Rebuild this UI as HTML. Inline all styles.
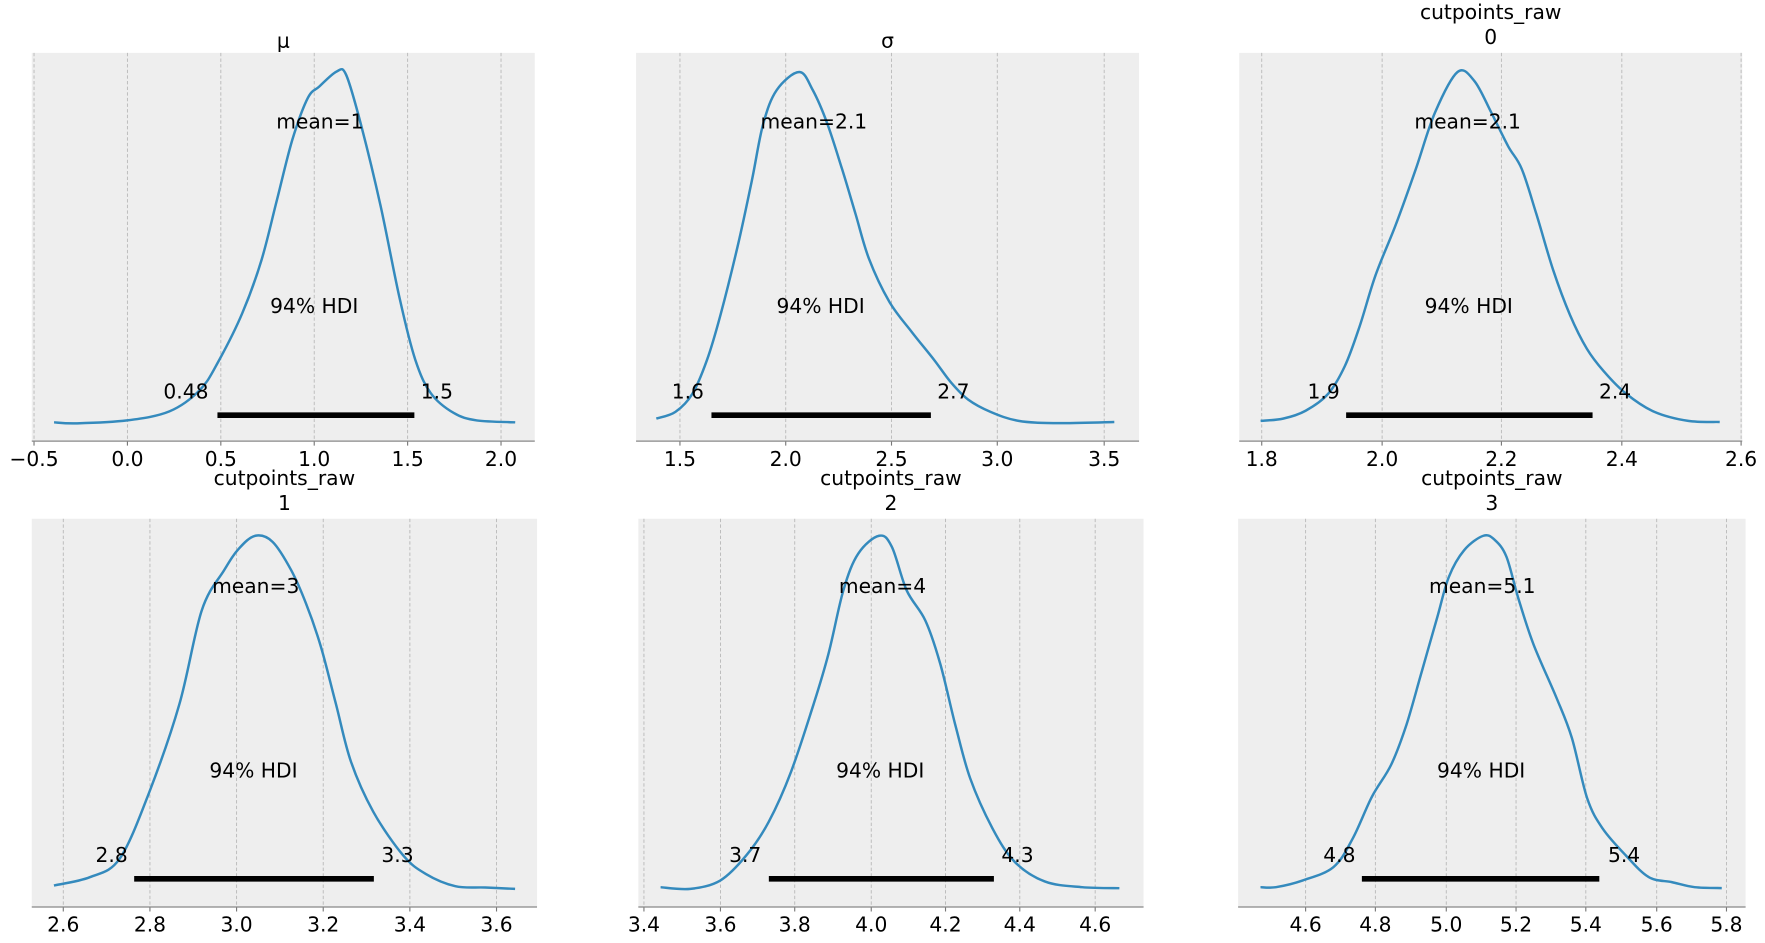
<!DOCTYPE html>
<html><head><meta charset="utf-8"><style>
html,body{margin:0;padding:0;background:#fff;}
svg{display:block;}
text{font-family:"DejaVu Sans","Liberation Sans",sans-serif;fill:#000;}
</style></head><body>
<svg id="s" width="1765" height="943" viewBox="0 0 1568 838" xmlns="http://www.w3.org/2000/svg"></svg>
<script>
const S=document.getElementById('s');let h='';
function T(x,y,t,sz,anc){h+=`<text x="${x}" y="${y}" font-size="${sz||18}" text-anchor="${anc||'middle'}">${t}</text>`;}
function smooth(p){let d=`M${p[0][0].toFixed(1)},${p[0][1].toFixed(1)}`;for(let i=0;i<p.length-1;i++){const p0=p[Math.max(i-1,0)],p1=p[i],p2=p[i+1],p3=p[Math.min(i+2,p.length-1)];const c1=[p1[0]+(p2[0]-p0[0])/6,p1[1]+(p2[1]-p0[1])/6],c2=[p2[0]-(p3[0]-p1[0])/6,p2[1]-(p3[1]-p1[1])/6];d+=` C${c1[0].toFixed(1)},${c1[1].toFixed(1)} ${c2[0].toFixed(1)},${c2[1].toFixed(1)} ${p2[0].toFixed(1)},${p2[1].toFixed(1)}`;}return d;}
function panel(x0,x1,top,axis,ticks,curve,bar,barY,lab,meanT,meanY,hdiT,hdiY,labY,title){
 h+=`<rect x="${x0}" y="${top}" width="${x1-x0}" height="${axis-top}" fill="#eeeeee"/>`;
 ticks.forEach(t=>{h+=`<line x1="${t[0]}" x2="${t[0]}" y1="${top}" y2="${axis}" stroke="#b8b8b8" stroke-width="0.8" stroke-dasharray="3,2"/>`;
  h+=`<line x1="${t[0]}" x2="${t[0]}" y1="${axis}" y2="${axis+4}" stroke="#777" stroke-width="1"/>`;T(t[0],axis+22,t[1]);});
 h+=`<line x1="${x0}" x2="${x1}" y1="${axis}" y2="${axis}" stroke="#888" stroke-width="1.2"/>`;
 h+=`<path d="${smooth(curve)}" fill="none" stroke="#348abd" stroke-width="2.2"/>`;
 h+=`<line x1="${bar[0]}" x2="${bar[1]}" y1="${barY}" y2="${barY}" stroke="#000" stroke-width="5"/>`;
 T(lab[0],labY,lab[1]);T(lab[2],labY,lab[3]);
 T(meanT[0],meanY,meanT[1]);T(hdiT,hdiY,'94% HDI');
 const c=(x0+x1)/2;
 if(title.length==1)T(c,top-5,title[0]);else{T(c,top-30,title[0]);T(c,top-8,title[1]);}
}
const z1=a=>a.map(p=>[p[0]*0.3415,p[1]*0.296]);
const c1=z1([[140,1268],[200,1271],[330,1262],[440,1235],[520,1170],[570,1080],[630,940],[680,780],[720,600],[760,420],[800,295],[830,260],[875,215],[900,225],[940,380],[990,620],[1040,900],[1080,1080],[1120,1180],[1180,1240],[1240,1262],[1340,1268]]);
panel(28,475,47,392,[[30,'−0.5'],[113,'0.0'],[196,'0.5'],[279,'1.0'],[362,'1.5'],[445,'2.0']],c1,[193,368],369,[165,'0.48',388,'1.5'],[284,'mean=1'],114,279,278,354,['μ']);
const c2=[[583,372],[600,366],[615,350],[628,320],[640,280],[655,220],[668,160],[678,110],[690,80],[710,64],[722,80],[735,110],[748,150],[760,190],[772,230],[790,268],[810,295],[830,320],[845,340],[860,355],[880,366],[905,374],[940,376],[990,375]];
panel(565,1012,47,392,[[604,'1.5'],[698,'2.0'],[792,'2.5'],[886,'3.0'],[981,'3.5']],c2,[632,827],369,[611,'1.6',847,'2.7'],[723,'mean=2.1'],114,729,278,354,['σ']);
const c3=[[1120,374],[1140,372],[1160,365],[1180,350],[1195,325],[1208,290],[1222,245],[1240,200],[1258,150],[1275,100],[1295,64],[1310,72],[1325,100],[1340,130],[1352,150],[1365,190],[1380,240],[1395,280],[1410,310],[1425,330],[1445,350],[1470,366],[1500,374],[1528,375]];
panel(1101,1548,47,392,[[1121,'1.8'],[1228,'2.0'],[1334,'2.2'],[1441,'2.4'],[1547,'2.6']],c3,[1196,1415],369,[1176,'1.9',1435,'2.4'],[1304,'mean=2.1'],114,1305,278,354,['cutpoints_raw','0']);
const z3=a=>a.map(p=>[p[0]*0.663,417.4+p[1]*0.298]);
const r1=z3([[72,1240],[120,1215],[160,1160],[200,960],[240,700],[270,420],[300,300],[320,235],[342,197],[365,215],[390,300],[410,400],[430,530],[450,700],[470,870],[500,1020],[540,1150],[570,1205],[610,1242],[650,1246],[690,1250]]);
panel(28,477,461,806,[[56,'2.6'],[133,'2.8'],[210,'3.0'],[287,'3.2'],[364,'3.4'],[441,'3.6']],r1,[119,332],781,[99,'2.8',353,'3.3'],[227,'mean=3'],527,225,691,766,['cutpoints_raw','1']);
const r2=z3([[885,1245],[925,1250],[965,1225],[1000,1150],[1030,1050],[1060,900],[1090,700],[1110,550],[1130,360],[1150,250],[1178,197],[1195,230],[1215,360],[1240,450],[1260,580],[1280,760],[1300,920],[1330,1070],[1360,1170],[1400,1228],[1450,1245],[1500,1248]]);
panel(567,1016,461,806,[[572,'3.4'],[640,'3.6'],[706,'3.8'],[774,'4.0'],[840,'4.2'],[906,'4.4'],[973,'4.6']],r2,[683,883],781,[662,'3.7',904,'4.3'],[784,'mean=4'],527,782,691,766,['cutpoints_raw','2']);
const z2=a=>a.map(p=>[(1165+p[0]/2.6)*0.888,(470+p[1]/2.98)*0.888]);
const r3=z2([[250,1245],[290,1245],[360,1225],[440,1185],[490,1100],[540,975],[590,880],[630,760],[670,600],[710,440],[740,320],[780,240],[830,197],[860,210],[890,260],[920,380],[960,520],[1020,680],[1060,800],[1100,980],[1140,1070],[1200,1150],[1260,1215],[1320,1230],[1380,1245],[1450,1248]]);
panel(1100,1551,461,806,[[1160,'4.6'],[1222,'4.8'],[1285,'5.0'],[1347,'5.2'],[1409,'5.4'],[1472,'5.6'],[1534,'5.8']],r3,[1210,1421],781,[1190,'4.8',1443,'5.4'],[1317,'mean=5.1'],527,1316,691,766,['cutpoints_raw','3']);
S.innerHTML=h;
</script>
</body></html>
